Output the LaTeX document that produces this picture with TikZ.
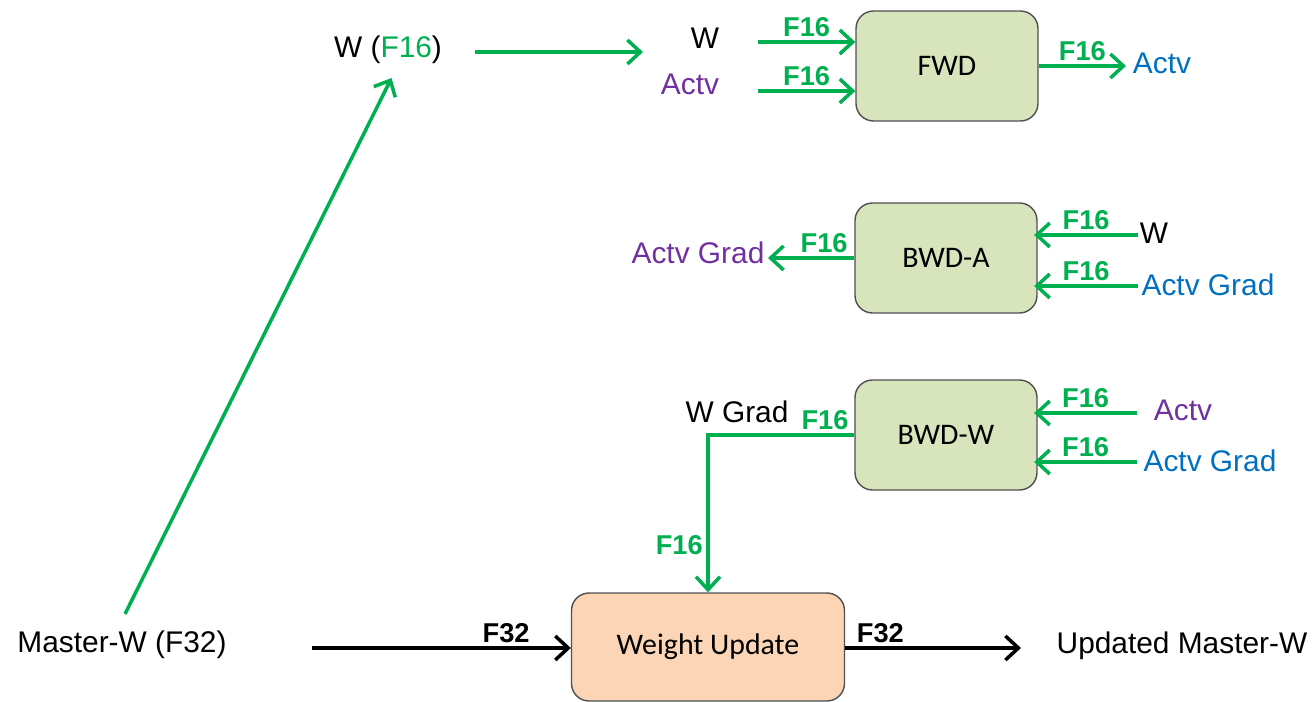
\documentclass[tikz,border=0pt]{standalone}
\usepackage{fontspec}
\setmainfont{Liberation Sans}
\newfontfamily\boxfont{Carlito}
\usepackage{xcolor}
\usetikzlibrary{arrows.meta,positioning}
\definecolor{flowgreen}{RGB}{0,176,80}
\definecolor{actvpurple}{RGB}{112,48,160}
\definecolor{actvblue}{RGB}{0,112,192}
\definecolor{opfill}{RGB}{216,228,188}
\definecolor{updfill}{RGB}{251,213,181}
\definecolor{boxline}{RGB}{80,80,80}

\begin{document}
\begin{tikzpicture}[x=0.02cm, y=-0.02cm,
opbox/.style={draw=boxline, line width=0.8pt, rounded corners=0.35cm, fill=opfill, minimum width=3.64cm, minimum height=2.2cm, align=center, font=\boxfont\fontsize{17}{20}\selectfont},
txt/.style={font=\fontsize{17}{20}\selectfont, inner sep=1pt},
flab/.style={font=\bfseries\fontsize{15.5}{18}\selectfont, inner sep=2pt, text=flowgreen},
blab/.style={font=\bfseries\fontsize{15.5}{18}\selectfont, inner sep=2pt, text=black},
garrow/.style={-{Straight Barb[length=2.6mm,width=4.8mm]}, line width=2pt, flowgreen},
karrow/.style={-{Straight Barb[length=2.6mm,width=4.8mm]}, line width=2pt, black}
]
\useasboundingbox (0,0) rectangle (1313,702);

% operator boxes
\node[opbox] (fwd) at (947,66) {FWD};
\node[opbox] (bwda) at (946,258) {BWD-A};
\node[opbox] (bwdw) at (946,435) {BWD-W};
\node[opbox, fill=updfill, minimum width=5.46cm, minimum height=2.16cm] (wu) at (708,647) {Weight Update};

% texts
\node[txt] (mw) at (122,645) {Master-W (F32)};
\node[txt] (wf) at (388,50) {W (\textcolor{flowgreen}{F16})};
\node[txt] (fwdw) at (705,38) {W};
\node[txt, text=actvpurple] (fwdactv) at (690,84) {Actv};
\node[txt, text=actvblue] (fwdout) at (1162,63) {Actv};
\node[txt] (bwdaw) at (1154,233) {W};
\node[txt, text=actvblue] (bwdaag) at (1208,285) {Actv Grad};
\node[txt, text=actvpurple] (bwdaout) at (698,253) {Actv Grad};
\node[txt, text=actvpurple] (bwdwactv) at (1183,410) {Actv};
\node[txt, text=actvblue] (bwdwag) at (1210,461) {Actv Grad};
\node[txt] (wgrad) at (737,412) {W Grad};
\node[txt] (umw) at (1182,646) {Updated Master-W};

% free arrow ends
\coordinate (wf-out) at (475,52);
\coordinate (wf-in) at (643,52);
\coordinate (fwd-in1) at (758,42);
\coordinate (fwd-in2) at (758,91);
\coordinate (fwd-out) at (1126,66);
\coordinate (bwda-in1) at (1138,235);
\coordinate (bwda-in2) at (1138,286);
\coordinate (bwda-out) at (768,258);
\coordinate (bwdw-in1) at (1137,413);
\coordinate (bwdw-in2) at (1137,462);
\coordinate (mw-out) at (312,648);
\coordinate (wu-out) at (1021,648);

% weights cast to F16
\draw[garrow] (mw.north) ++(3,-15) -- ([xshift=2pt, yshift=-0.24cm]wf.south);
\draw[garrow] (wf-out) -- (wf-in);

% forward
\draw[garrow] (fwd-in1) -- node[flab, above] {F16} (fwd.west |- fwd-in1);
\draw[garrow] (fwd-in2) -- node[flab, above] {F16} (fwd.west |- fwd-in2);
\draw[garrow] (fwd.east) -- node[flab, above] {F16} (fwd-out);

% backward activations
\draw[garrow] (bwda-in1) -- node[flab, above] {F16} ([xshift=-2pt]bwda.east |- bwda-in1);
\draw[garrow] (bwda-in2) -- node[flab, above] {F16} ([xshift=-2pt]bwda.east |- bwda-in2);
\draw[garrow] (bwda.west) -- node[flab, above, pos=0.35] {F16} (bwda-out);

% backward weights
\draw[garrow] (bwdw-in1) -- node[flab, above] {F16} ([xshift=-2pt]bwdw.east |- bwdw-in1);
\draw[garrow] (bwdw-in2) -- node[flab, above] {F16} ([xshift=-2pt]bwdw.east |- bwdw-in2);
\draw[garrow] (bwdw.west) -| node[flab, anchor=south, pos=0.1] {F16} node[flab, anchor=east, pos=0.85] {F16} (wu.north);

% master weight update
\draw[karrow] (mw-out) -- node[blab, above, pos=0.75] {F32} (wu.west |- mw-out);
\draw[karrow] (wu.east |- wu-out) -- node[blab, above, pos=0.2] {F32} (wu-out);
\end{tikzpicture}
\end{document}
